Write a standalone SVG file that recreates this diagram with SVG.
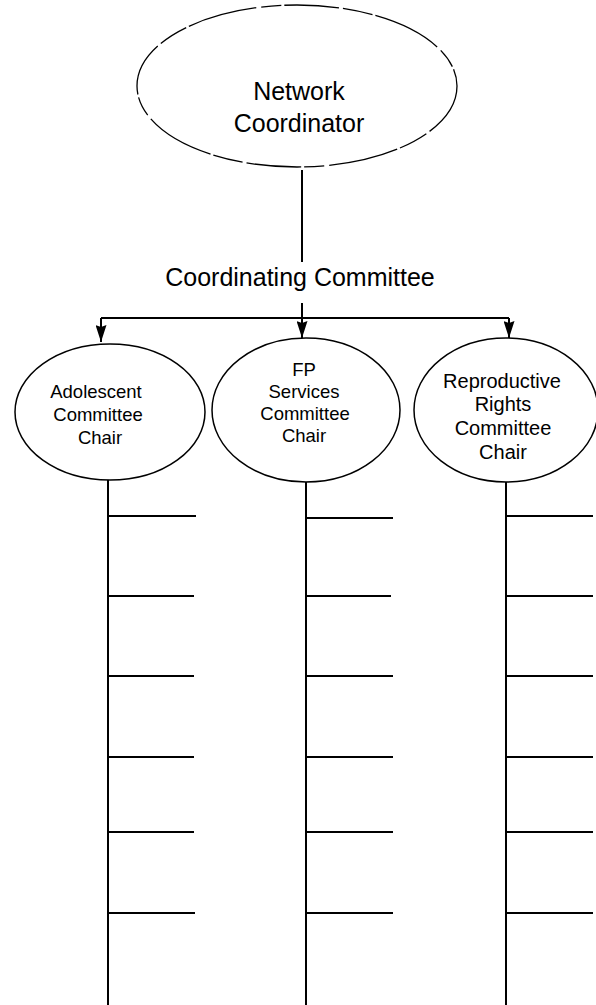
<svg xmlns="http://www.w3.org/2000/svg" width="596" height="1005" viewBox="0 0 596 1005">
<style>
  .node { fill: none; stroke: #000; stroke-width: 1.5; }
  .top { stroke-width: 1.3; stroke-dasharray: 55 4 30 3 70 5 20 3; }
  .t { font-family: "Liberation Sans", Arial, sans-serif; fill: #000; text-anchor: middle; }
  .big { font-size: 25px; }
  .small { font-size: 18.5px; }
  .rr { font-size: 20px; }
  .ln { stroke: #000; stroke-width: 2; fill: none; }
</style>
<defs>
  <marker id="arr" viewBox="0 0 17 11" refX="17" refY="5.5" markerWidth="17" markerHeight="11" markerUnits="userSpaceOnUse" orient="auto">
    <path d="M0,0 L2,5.5 L0,11 L17,5.5 Z" fill="#000"/>
  </marker>
</defs>
<rect width="596" height="1005" fill="#fff"/>

<g id="connectors">
  <line class="ln" x1="302" y1="170" x2="302" y2="262"/>
  <line class="ln" x1="302" y1="303" x2="302" y2="318"/>
  <line class="ln" x1="101" y1="318" x2="509" y2="318"/>
  <line class="ln" x1="101" y1="318" x2="101" y2="342" marker-end="url(#arr)"/>
  <line class="ln" x1="302" y1="318" x2="302" y2="338" marker-end="url(#arr)"/>
  <line class="ln" x1="509" y1="318" x2="509" y2="338" marker-end="url(#arr)"/>
  <line class="ln" x1="108" y1="480" x2="108" y2="1005"/>
  <line class="ln" x1="306" y1="482" x2="306" y2="1005"/>
  <line class="ln" x1="506" y1="482" x2="506" y2="1005"/>
  <g id="branches-left">
    <line class="ln" x1="108" y1="516" x2="196" y2="516"/>
    <line class="ln" x1="108" y1="596" x2="194" y2="596"/>
    <line class="ln" x1="108" y1="676" x2="194" y2="676"/>
    <line class="ln" x1="108" y1="757" x2="194" y2="757"/>
    <line class="ln" x1="108" y1="832" x2="194" y2="832"/>
    <line class="ln" x1="108" y1="913" x2="195" y2="913"/>
  </g>
  <g id="branches-mid">
    <line class="ln" x1="306" y1="518" x2="393" y2="518"/>
    <line class="ln" x1="306" y1="596" x2="391" y2="596"/>
    <line class="ln" x1="306" y1="676" x2="393" y2="676"/>
    <line class="ln" x1="306" y1="757" x2="393" y2="757"/>
    <line class="ln" x1="306" y1="832" x2="393" y2="832"/>
    <line class="ln" x1="306" y1="913" x2="393" y2="913"/>
  </g>
  <g id="branches-right">
    <line class="ln" x1="506" y1="516" x2="593" y2="516"/>
    <line class="ln" x1="506" y1="596" x2="593" y2="596"/>
    <line class="ln" x1="506" y1="676" x2="593" y2="676"/>
    <line class="ln" x1="506" y1="757" x2="593" y2="757"/>
    <line class="ln" x1="506" y1="832" x2="593" y2="832"/>
    <line class="ln" x1="506" y1="913" x2="593" y2="913"/>
  </g>
</g>

<g id="network-coordinator">
  <ellipse class="node top" cx="297" cy="86" rx="160" ry="81"/>
  <text class="t big" x="299" y="100">Network</text>
  <text class="t big" x="299" y="132">Coordinator</text>
</g>

<g id="coordinating-committee">
  <text class="t big" x="300" y="286">Coordinating Committee</text>
</g>

<g id="adolescent">
  <ellipse class="node" cx="110" cy="412" rx="95" ry="68"/>
  <text class="t small" x="96" y="398">Adolescent</text>
  <text class="t small" x="98" y="421">Committee</text>
  <text class="t small" x="100" y="444">Chair</text>
</g>

<g id="fp-services">
  <ellipse class="node" cx="306" cy="410" rx="94" ry="72"/>
  <text class="t small" x="304" y="376">FP</text>
  <text class="t small" x="304" y="398">Services</text>
  <text class="t small" x="305" y="420">Committee</text>
  <text class="t small" x="304" y="442">Chair</text>
</g>

<g id="reproductive-rights">
  <ellipse class="node" cx="506" cy="410" rx="92" ry="72"/>
  <text class="t rr" x="502" y="388">Reproductive</text>
  <text class="t rr" x="503" y="411">Rights</text>
  <text class="t rr" x="503" y="435">Committee</text>
  <text class="t rr" x="503" y="459">Chair</text>
</g>
</svg>
